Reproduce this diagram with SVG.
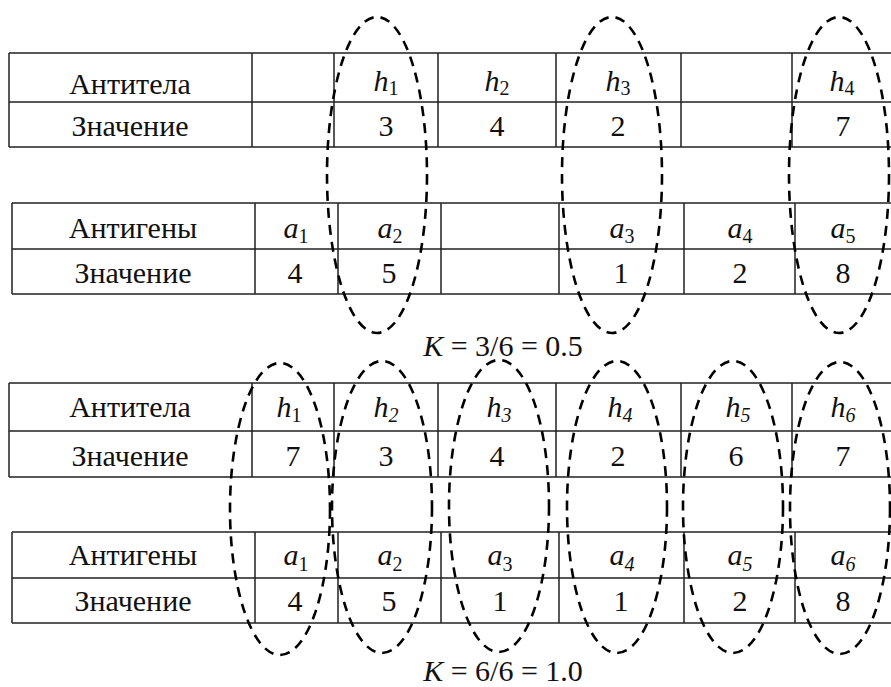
<svg xmlns="http://www.w3.org/2000/svg" width="891" height="687" viewBox="0 0 891 687">
<style>
.g{stroke:#222;stroke-width:1.5;fill:none}
text{font-family:'Liberation Serif','Times New Roman',serif;font-size:30px;fill:#111;text-anchor:middle}
.i{font-style:italic}
.s{font-size:20px}
.si{font-size:20px;font-style:italic}
.e{fill:none;stroke:#000;stroke-width:2.6;stroke-dasharray:10 7}
</style>
<rect width="891" height="687" fill="#fff"/>

<g id="table-antibodies-1">
<path class="g" d="M9 53H891M9 102H891M9 147H891M9 53V147M252 53V147M334 53V147M438 53V147M556 53V147M681 53V147M792 53V147"/>
<text x="130" y="94">Антитела</text>
<text x="130" y="136">Значение</text>
<text x="386" y="91"><tspan class="i">h</tspan><tspan class="s" dy="4">1</tspan></text>
<text x="497" y="91"><tspan class="i">h</tspan><tspan class="s" dy="4">2</tspan></text>
<text x="618" y="91"><tspan class="i">h</tspan><tspan class="s" dy="4">3</tspan></text>
<text x="842" y="91"><tspan class="i">h</tspan><tspan class="s" dy="4">4</tspan></text>
<text x="386" y="136">3</text>
<text x="497" y="136">4</text>
<text x="618" y="136">2</text>
<text x="843" y="136">7</text>
</g>

<g id="table-antigens-1">
<path class="g" d="M12 203H891M12 249H891M12 294H891M12 203V294M255 203V294M338 203V294M441 203V294M559 203V294M684 203V294M795 203V294"/>
<text x="133" y="238">Антигены</text>
<text x="133" y="283">Значение</text>
<text x="296" y="238"><tspan class="i">a</tspan><tspan class="s" dy="5">1</tspan></text>
<text x="390" y="238"><tspan class="i">a</tspan><tspan class="s" dy="5">2</tspan></text>
<text x="622" y="238"><tspan class="i">a</tspan><tspan class="s" dy="5">3</tspan></text>
<text x="740" y="238"><tspan class="i">a</tspan><tspan class="s" dy="5">4</tspan></text>
<text x="843" y="238"><tspan class="i">a</tspan><tspan class="s" dy="5">5</tspan></text>
<text x="295" y="283">4</text>
<text x="389" y="283">5</text>
<text x="621" y="283">1</text>
<text x="740" y="283">2</text>
<text x="843" y="283">8</text>
</g>

<g id="table-antibodies-2">
<path class="g" d="M9 383H891M9 431H891M9 477H891M9 383V477M252 383V477M334 383V477M438 383V477M556 383V477M681 383V477M792 383V477"/>
<text x="130" y="417">Антитела</text>
<text x="130" y="466">Значение</text>
<text x="289" y="417"><tspan class="i">h</tspan><tspan class="s" dy="5">1</tspan></text>
<text x="386" y="417"><tspan class="i">h</tspan><tspan class="si" dy="5">2</tspan></text>
<text x="499" y="417"><tspan class="i">h</tspan><tspan class="si" dy="5">3</tspan></text>
<text x="620" y="417"><tspan class="i">h</tspan><tspan class="si" dy="5">4</tspan></text>
<text x="738" y="417"><tspan class="i">h</tspan><tspan class="si" dy="5">5</tspan></text>
<text x="843" y="417"><tspan class="i">h</tspan><tspan class="si" dy="5">6</tspan></text>
<text x="293" y="466">7</text>
<text x="386" y="466">3</text>
<text x="497" y="466">4</text>
<text x="618" y="466">2</text>
<text x="736" y="466">6</text>
<text x="843" y="466">7</text>
</g>

<g id="table-antigens-2">
<path class="g" d="M12 532H891M12 578H891M12 623H891M12 532V623M255 532V623M338 532V623M441 532V623M559 532V623M684 532V623M795 532V623"/>
<text x="133" y="565">Антигены</text>
<text x="133" y="611">Значение</text>
<text x="296" y="565"><tspan class="i">a</tspan><tspan class="s" dy="6">1</tspan></text>
<text x="390" y="565"><tspan class="i">a</tspan><tspan class="s" dy="6">2</tspan></text>
<text x="500" y="565"><tspan class="i">a</tspan><tspan class="s" dy="6">3</tspan></text>
<text x="622" y="565"><tspan class="i">a</tspan><tspan class="si" dy="6">4</tspan></text>
<text x="740" y="565"><tspan class="i">a</tspan><tspan class="si" dy="6">5</tspan></text>
<text x="843" y="565"><tspan class="i">a</tspan><tspan class="si" dy="6">6</tspan></text>
<text x="295" y="611">4</text>
<text x="389" y="611">5</text>
<text x="500" y="611">1</text>
<text x="621" y="611">1</text>
<text x="740" y="611">2</text>
<text x="843" y="611">8</text>
</g>

<g id="matches">
<ellipse class="e" cx="377" cy="175" rx="50" ry="158"/>
<ellipse class="e" cx="612" cy="175" rx="50" ry="158"/>
<ellipse class="e" cx="839" cy="175" rx="50" ry="158"/>
<ellipse class="e" cx="280" cy="509" rx="50" ry="146"/>
<ellipse class="e" cx="382" cy="507" rx="50" ry="146"/>
<ellipse class="e" cx="499" cy="506" rx="50" ry="146"/>
<ellipse class="e" cx="617" cy="507" rx="50" ry="146"/>
<ellipse class="e" cx="733" cy="507" rx="50" ry="146"/>
<ellipse class="e" cx="840" cy="508" rx="50" ry="146"/>
</g>

<g id="results">
<text x="503" y="356"><tspan class="i">K</tspan> = 3/6 = 0.5</text>
<text x="503" y="681"><tspan class="i">K</tspan> = 6/6 = 1.0</text>
</g>
</svg>
